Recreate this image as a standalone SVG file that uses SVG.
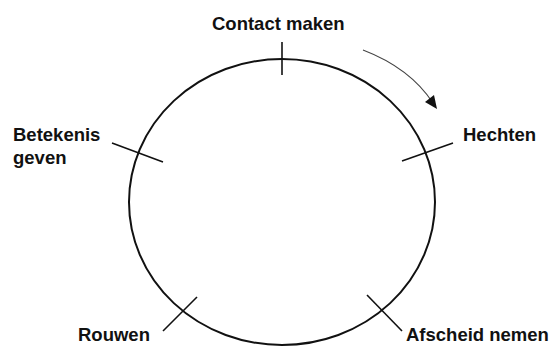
<svg xmlns="http://www.w3.org/2000/svg" width="556" height="347" viewBox="0 0 556 347">
<style>
.lbl{font-family:"Liberation Sans",Arial,sans-serif;font-weight:bold;font-size:18.5px;fill:#111}
.tick{stroke:#111;stroke-width:1.6;fill:none}
</style>
<rect width="556" height="347" fill="#fff"/>
<g id="cycle">
<ellipse cx="282" cy="202" rx="153" ry="143" fill="none" stroke="#111" stroke-width="2"/>
</g>
<g id="connectors">
<path d="M363,50 Q410,68 433,103" fill="none" stroke="#444" stroke-width="1.1"/>
<polygon points="437,109 425,102 434,95" fill="#111"/>
</g>
<g id="contact-maken">
<line class="tick" x1="282" y1="42" x2="282" y2="75"/>
<text class="lbl" x="212" y="30">Contact maken</text>
</g>
<g id="hechten">
<line class="tick" x1="402" y1="161" x2="453" y2="143"/>
<text class="lbl" x="463" y="141">Hechten</text>
</g>
<g id="afscheid-nemen">
<line class="tick" x1="367" y1="295" x2="402" y2="331"/>
<text class="lbl" x="406" y="341">Afscheid nemen</text>
</g>
<g id="rouwen">
<line class="tick" x1="163" y1="331" x2="197" y2="297"/>
<text class="lbl" x="78" y="341">Rouwen</text>
</g>
<g id="betekenis-geven">
<line class="tick" x1="112" y1="143" x2="163" y2="162"/>
<text class="lbl" x="13" y="141">Betekenis</text>
<text class="lbl" x="13" y="164">geven</text>
</g>
</svg>
